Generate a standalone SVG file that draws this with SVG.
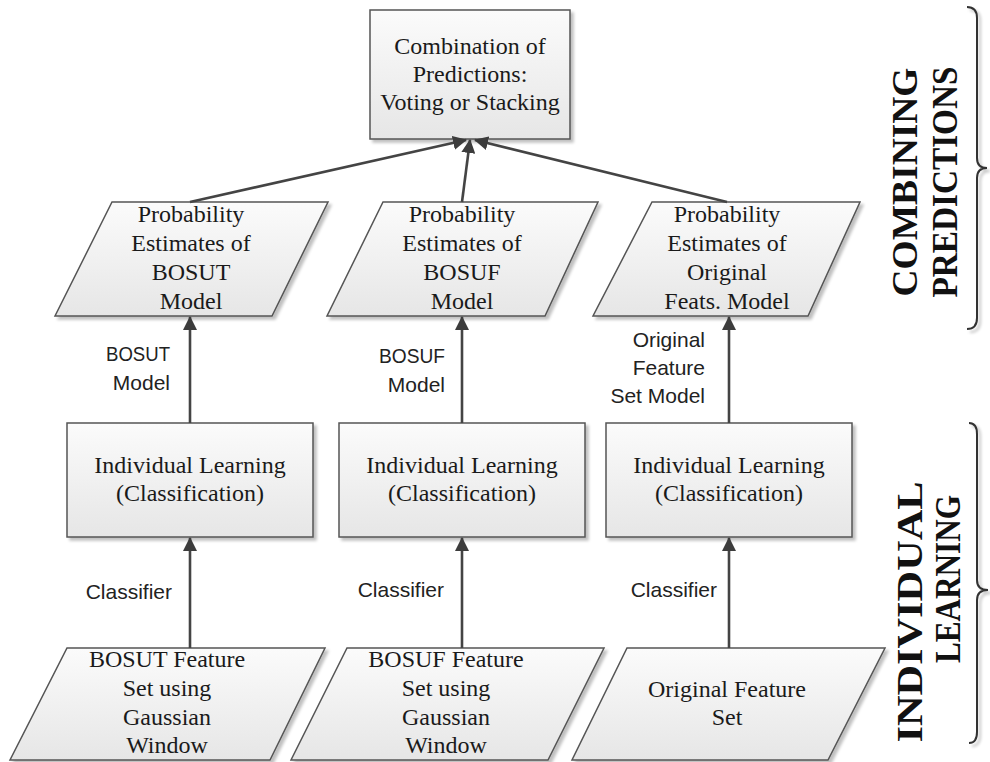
<svg xmlns="http://www.w3.org/2000/svg" width="990" height="762" viewBox="0 0 990 762">
  <defs>
    <linearGradient id="fillGrad" x1="0" y1="0" x2="0" y2="1">
      <stop offset="0" stop-color="#fbfbfb"/>
      <stop offset="1" stop-color="#e6e6e6"/>
    </linearGradient>
    <filter id="shadow" x="-10%" y="-10%" width="125%" height="130%">
      <feGaussianBlur in="SourceAlpha" stdDeviation="1.5"/>
      <feOffset dx="2.5" dy="2.5" result="b"/>
      <feComponentTransfer><feFuncA type="linear" slope="0.25"/></feComponentTransfer>
      <feMerge><feMergeNode/><feMergeNode in="SourceGraphic"/></feMerge>
    </filter>
    <marker id="arrow" viewBox="0 0 14 14" refX="13" refY="7" markerWidth="14" markerHeight="14" markerUnits="userSpaceOnUse" orient="auto">
      <path d="M0,0 L14,7 L0,14 Z" fill="#3c3c3c"/>
    </marker>
  </defs>
  <style>
    .shape { fill: url(#fillGrad); stroke: #555; stroke-width: 1.5; filter: url(#shadow); }
    .node text { font-family: "Liberation Serif", "Times New Roman", serif; font-size: 24px; fill: #1a1a1a; text-anchor: middle; }
    .edge { stroke: #444; stroke-width: 2.6; fill: none; marker-end: url(#arrow); }
    .label { font-family: "Liberation Sans", Arial, sans-serif; font-size: 21px; fill: #222; text-anchor: end; }
    .phase { font-family: "Liberation Serif", "Times New Roman", serif; font-size: 35px; font-weight: bold; fill: #111; text-anchor: middle; }
    .brace { fill: none; stroke: #333; stroke-width: 2; filter: url(#shadow); }
  </style>

  <rect width="990" height="762" fill="#ffffff"/>

  <!-- combining stage -->
  <g id="combination" class="node">
    <rect class="shape" x="370" y="10" width="200" height="129"/>
    <text x="470" y="54">Combination of</text>
    <text x="470" y="82">Predictions:</text>
    <text x="470" y="110">Voting or Stacking</text>
  </g>

  <!-- probability estimates -->
  <g id="prob-bosut" class="node">
    <polygon class="shape" points="112,202 328,202 272,316 55,316"/>
    <text x="191" y="222">Probability</text>
    <text x="191" y="251">Estimates of</text>
    <text x="191" y="280">BOSUT</text>
    <text x="191" y="309">Model</text>
  </g>
  <g id="prob-bosuf" class="node">
    <polygon class="shape" points="383,202 598,202 545,316 327,316"/>
    <text x="462" y="222">Probability</text>
    <text x="462" y="251">Estimates of</text>
    <text x="462" y="280">BOSUF</text>
    <text x="462" y="309">Model</text>
  </g>
  <g id="prob-original" class="node">
    <polygon class="shape" points="652,202 860,202 808,316 593,316"/>
    <text x="727" y="222">Probability</text>
    <text x="727" y="251">Estimates of</text>
    <text x="727" y="280">Original</text>
    <text x="727" y="309">Feats. Model</text>
  </g>

  <!-- individual learning -->
  <g id="learn-bosut" class="node">
    <rect class="shape" x="67" y="423" width="246" height="114"/>
    <text x="190" y="473">Individual Learning</text>
    <text x="190" y="501">(Classification)</text>
  </g>
  <g id="learn-bosuf" class="node">
    <rect class="shape" x="339" y="423" width="246" height="114"/>
    <text x="462" y="473">Individual Learning</text>
    <text x="462" y="501">(Classification)</text>
  </g>
  <g id="learn-original" class="node">
    <rect class="shape" x="606" y="423" width="246" height="114"/>
    <text x="729" y="473">Individual Learning</text>
    <text x="729" y="501">(Classification)</text>
  </g>

  <!-- feature sets -->
  <g id="feat-bosut" class="node">
    <polygon class="shape" points="67,648 325,648 270,760 10,760"/>
    <text x="167" y="667">BOSUT Feature</text>
    <text x="167" y="696">Set using</text>
    <text x="167" y="725">Gaussian</text>
    <text x="167" y="753">Window</text>
  </g>
  <g id="feat-bosuf" class="node">
    <polygon class="shape" points="347,648 604,648 548,760 291,760"/>
    <text x="446" y="667">BOSUF Feature</text>
    <text x="446" y="696">Set using</text>
    <text x="446" y="725">Gaussian</text>
    <text x="446" y="753">Window</text>
  </g>
  <g id="feat-original" class="node">
    <polygon class="shape" points="627,648 885,648 828,760 572,760"/>
    <text x="727" y="697">Original Feature</text>
    <text x="727" y="725">Set</text>
  </g>

  <!-- connectors -->
  <g id="connectors">
    <line class="edge" x1="190" y1="202" x2="466" y2="140"/>
    <line class="edge" x1="462" y1="202" x2="470" y2="140"/>
    <line class="edge" x1="727" y1="202" x2="475" y2="140"/>
    <line class="edge" x1="190" y1="423" x2="190" y2="317"/>
    <line class="edge" x1="462" y1="423" x2="462" y2="317"/>
    <line class="edge" x1="729" y1="423" x2="729" y2="317"/>
    <line class="edge" x1="190" y1="648" x2="190" y2="538"/>
    <line class="edge" x1="462" y1="648" x2="462" y2="538"/>
    <line class="edge" x1="729" y1="648" x2="729" y2="538"/>
    <text class="label" x="170" y="361" textLength="64" lengthAdjust="spacingAndGlyphs">BOSUT</text>
    <text class="label" x="170" y="390">Model</text>
    <text class="label" x="445" y="363" textLength="66" lengthAdjust="spacingAndGlyphs">BOSUF</text>
    <text class="label" x="445" y="392">Model</text>
    <text class="label" x="705" y="347">Original</text>
    <text class="label" x="705" y="375">Feature</text>
    <text class="label" x="705" y="403">Set Model</text>
    <text class="label" x="172" y="599">Classifier</text>
    <text class="label" x="444" y="597">Classifier</text>
    <text class="label" x="717" y="597">Classifier</text>
  </g>

  <!-- stage brackets -->
  <g id="stage-combining">
    <path class="brace" d="M967,7 Q977,7 977,18 L977,158 Q977,168 987,168 Q977,168 977,178 L977,318 Q977,329 967,329"/>
    <text class="phase" transform="translate(917,182) rotate(-90)" textLength="229" lengthAdjust="spacingAndGlyphs">COMBINING</text>
    <text class="phase" transform="translate(957,182) rotate(-90)" textLength="231" lengthAdjust="spacingAndGlyphs">PREDICTIONS</text>
  </g>
  <g id="stage-individual">
    <path class="brace" d="M969,423 Q977,423 977,434 L977,580 Q977,590 988,590 Q977,590 977,600 L977,732 Q977,743 969,743"/>
    <text class="phase" transform="translate(922,612) rotate(-90)" textLength="261" lengthAdjust="spacingAndGlyphs">INDIVIDUAL</text>
    <text class="phase" transform="translate(960,579) rotate(-90)" textLength="168" lengthAdjust="spacingAndGlyphs">LEARNING</text>
  </g>
</svg>
